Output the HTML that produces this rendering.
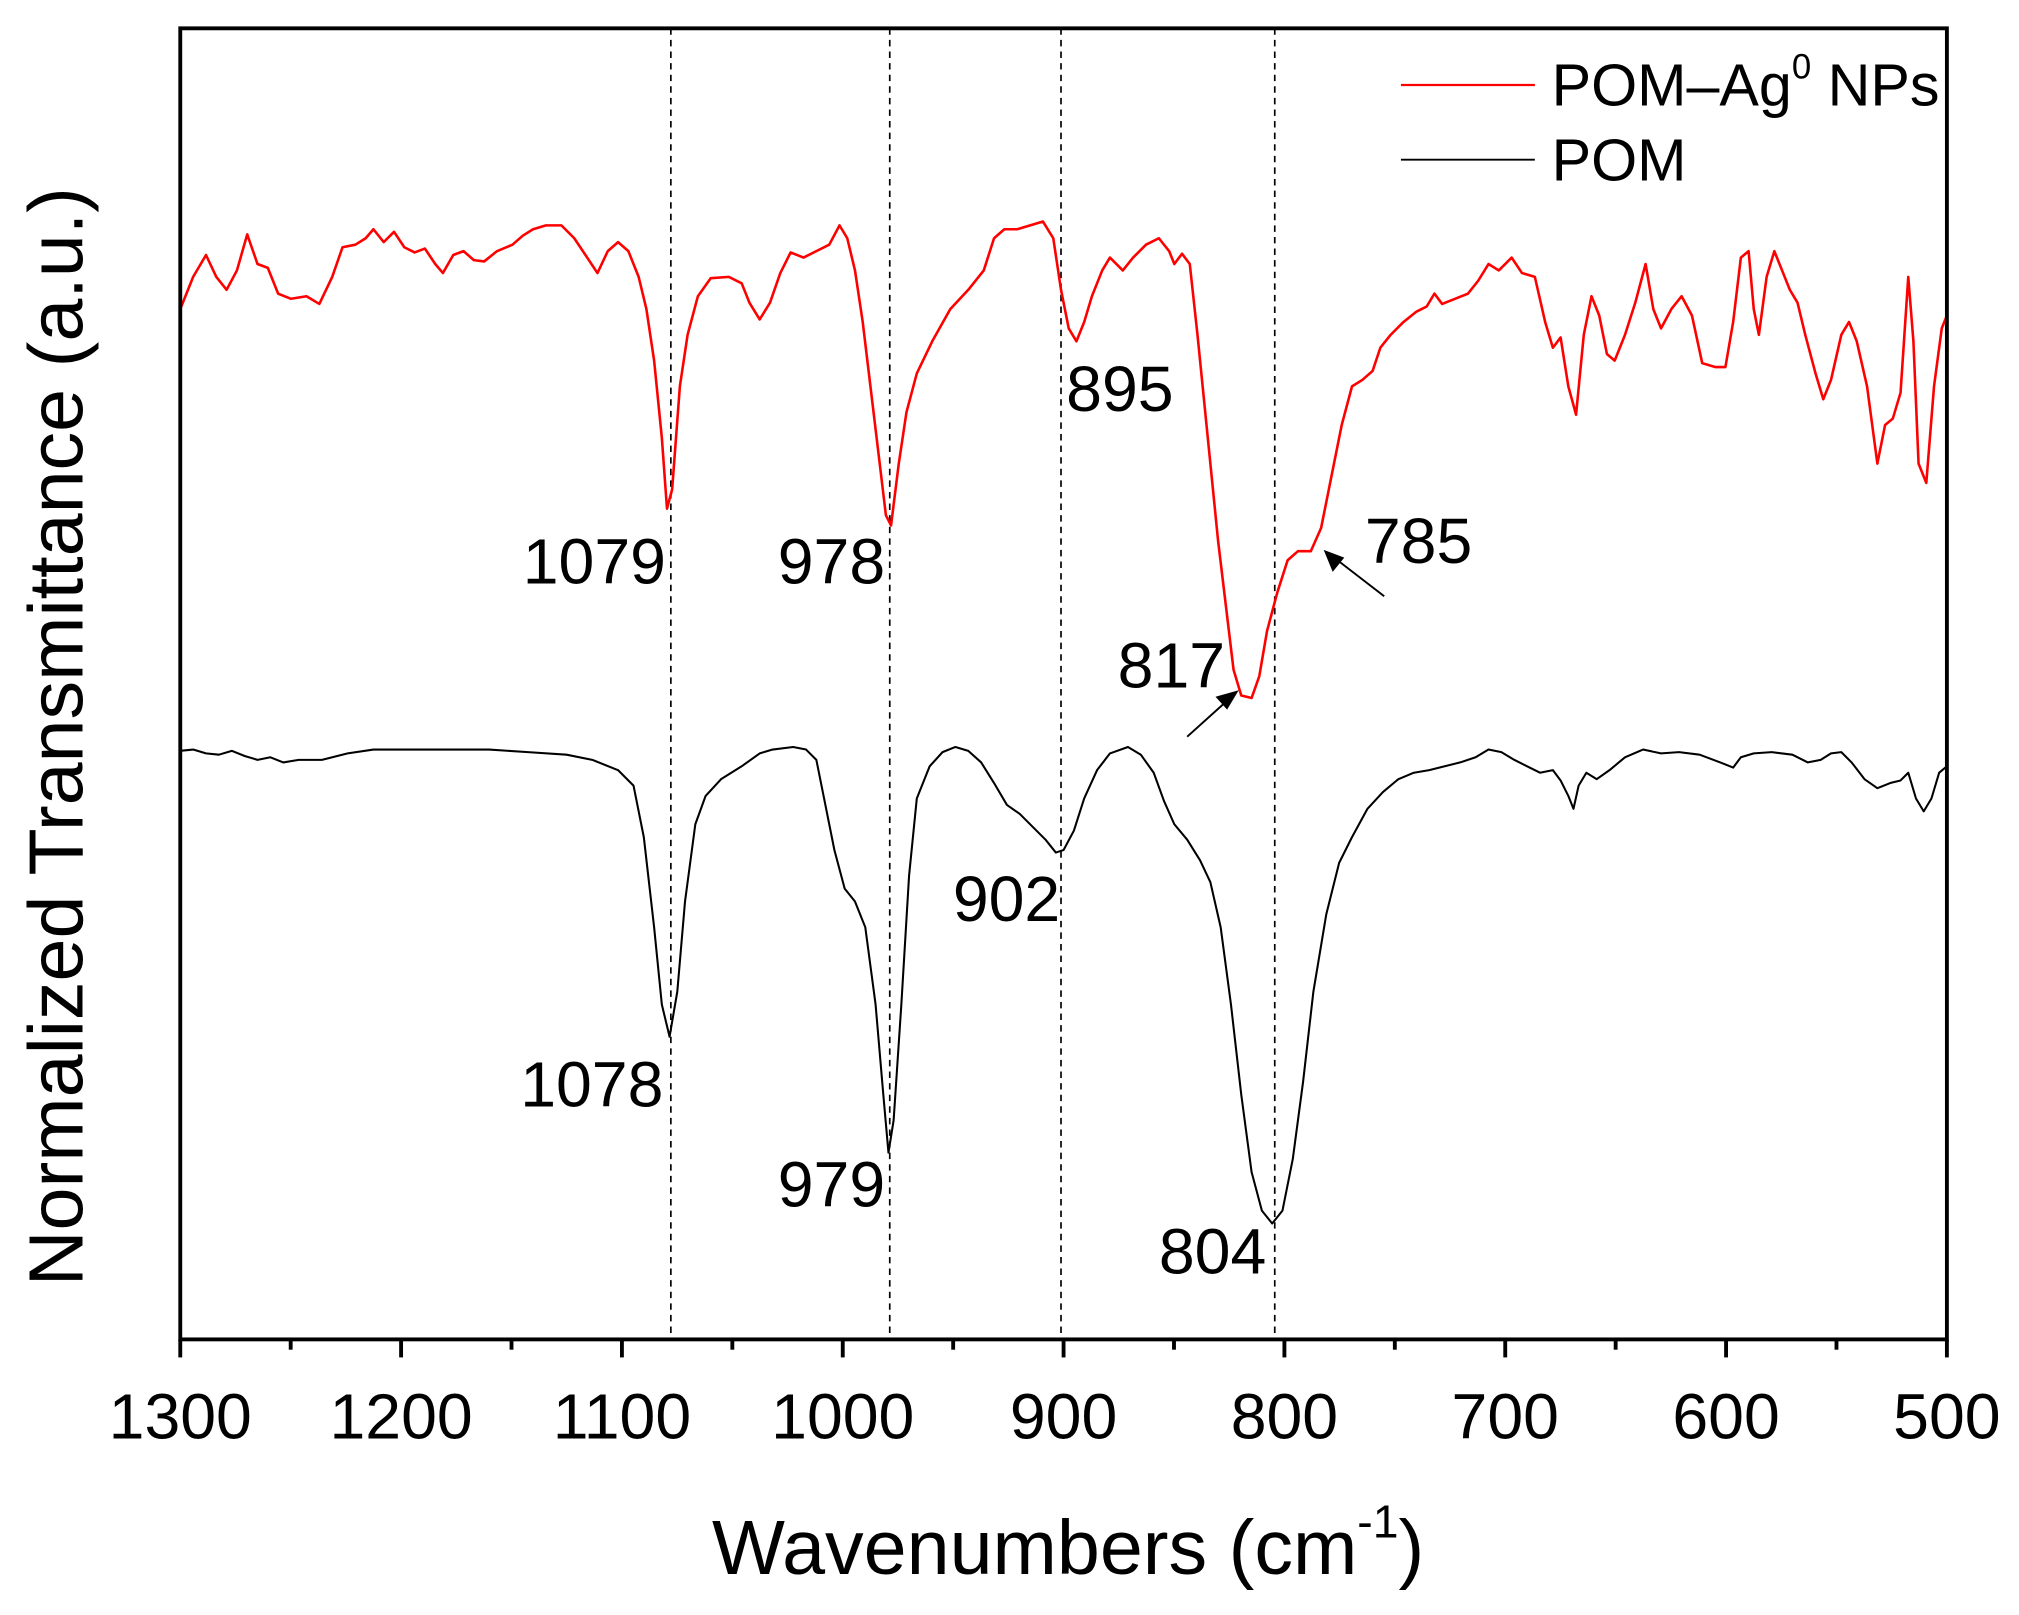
<!DOCTYPE html>
<html><head><meta charset="utf-8"><style>
html,body{margin:0;padding:0;background:#fff;}
svg{display:block;}
text{font-family:"Liberation Sans",Arial,sans-serif;fill:#000;}
</style></head><body>
<svg width="2019" height="1615" viewBox="0 0 1568 1254" preserveAspectRatio="none" xmlns="http://www.w3.org/2000/svg">
<rect x="0" y="0" width="1568" height="1254" fill="#fff"/>
<g stroke="#000" stroke-width="1.3" stroke-dasharray="5,4">
<line x1="521" y1="22" x2="521" y2="1040"/>
<line x1="691" y1="22" x2="691" y2="1040"/>
<line x1="824" y1="22" x2="824" y2="1040"/>
<line x1="990" y1="22" x2="990" y2="1040"/>
</g>
<polyline fill="none" stroke="#ff0000" stroke-width="2" stroke-linejoin="round" points="140,240 150,215 160,198 168,215 176,225 184,210 192,182 200,205 208,208 216,228 226,232 238,230 248,236 258,215 266,192 276,190 284,185 290,178 298,188 306,180 314,192 322,196 330,193 338,205 344,212 352,198 360,195 368,202 376,203 386,195 398,190 406,183 414,178 424,175 436,175 446,185 456,200 464,212 472,195 480,188 488,195 496,215 502,240 508,280 514,340 518,395 522,380 528,300 534,260 542,230 552,216 566,215 576,220 582,235 590,248 598,235 606,212 614,196 624,200 634,195 644,190 652,175 658,185 664,210 670,250 676,300 682,350 688,400 692,408 698,360 704,320 712,290 724,265 738,240 752,225 764,210 772,185 780,178 790,178 800,175 810,172 818,185 824,225 830,255 836,265 842,250 848,230 856,210 862,200 872,210 880,200 890,190 900,185 908,195 912,205 918,197 924,205 930,260 938,340 946,420 952,470 958,520 964,540 972,542 978,525 984,490 992,460 1000,435 1008,428 1018,428 1026,410 1034,370 1042,330 1050,300 1058,295 1066,288 1072,270 1080,260 1090,250 1100,242 1108,238 1114,228 1120,236 1130,232 1140,228 1148,218 1156,205 1164,210 1174,200 1182,212 1192,215 1200,250 1206,270 1212,262 1218,300 1224,322 1230,260 1236,230 1242,245 1248,275 1254,280 1262,260 1270,235 1278,205 1284,240 1290,255 1298,240 1306,230 1314,245 1322,282 1332,285 1340,285 1346,250 1352,200 1358,195 1362,240 1366,260 1372,215 1378,195 1384,210 1390,225 1396,235 1402,260 1410,290 1416,310 1422,295 1430,260 1436,250 1442,265 1450,300 1458,360 1464,330 1470,325 1476,305 1482,215 1486,265 1490,360 1496,375 1502,300 1508,255 1512,245"/>
<polyline fill="none" stroke="#000" stroke-width="1.6" stroke-linejoin="round" points="140,583 150,582 160,585 170,586 180,583 190,587 200,590 210,588 220,592 232,590 250,590 270,585 290,582 320,582 350,582 380,582 410,584 440,586 460,590 480,598 492,610 500,650 508,720 514,780 520,805 526,770 532,700 540,640 548,618 560,605 576,595 590,585 600,582 616,580 626,582 634,590 640,620 648,660 656,690 664,700 672,720 680,780 686,850 690,895 694,870 700,780 706,680 712,620 722,595 732,584 742,580 752,583 762,592 772,608 782,625 792,632 802,642 812,652 820,662 826,660 834,645 842,620 852,598 862,585 876,580 886,586 896,600 904,622 912,640 922,652 932,668 940,685 948,720 956,780 964,850 972,910 980,940 988,950 996,940 1004,900 1012,840 1020,770 1030,710 1040,670 1050,650 1062,628 1074,615 1086,605 1098,600 1110,598 1122,595 1134,592 1146,588 1156,582 1166,584 1176,590 1186,595 1196,600 1206,598 1212,606 1218,618 1222,628 1226,610 1232,600 1240,605 1250,598 1262,588 1276,582 1290,585 1304,584 1320,586 1336,592 1346,596 1352,588 1362,585 1376,584 1392,586 1404,592 1414,590 1422,585 1430,584 1438,592 1448,605 1458,612 1468,608 1476,606 1482,600 1488,620 1494,630 1500,620 1506,600 1512,595"/>
<rect x="140" y="22" width="1372" height="1018" fill="none" stroke="#000" stroke-width="3"/>
<g stroke="#000" stroke-width="3">
<line x1="140" y1="1040" x2="140" y2="1054"/><line x1="311.5" y1="1040" x2="311.5" y2="1054"/><line x1="483" y1="1040" x2="483" y2="1054"/><line x1="654.5" y1="1040" x2="654.5" y2="1054"/><line x1="826" y1="1040" x2="826" y2="1054"/><line x1="997.5" y1="1040" x2="997.5" y2="1054"/><line x1="1169" y1="1040" x2="1169" y2="1054"/><line x1="1340.5" y1="1040" x2="1340.5" y2="1054"/><line x1="1512" y1="1040" x2="1512" y2="1054"/>
<line x1="225.75" y1="1040" x2="225.75" y2="1048"/><line x1="397.25" y1="1040" x2="397.25" y2="1048"/><line x1="568.75" y1="1040" x2="568.75" y2="1048"/><line x1="740.25" y1="1040" x2="740.25" y2="1048"/><line x1="911.75" y1="1040" x2="911.75" y2="1048"/><line x1="1083.25" y1="1040" x2="1083.25" y2="1048"/><line x1="1254.75" y1="1040" x2="1254.75" y2="1048"/><line x1="1426.25" y1="1040" x2="1426.25" y2="1048"/>
</g>
<g font-size="50" text-anchor="middle">
<text x="140" y="1117">1300</text><text x="311.5" y="1117">1200</text><text x="483" y="1117">1100</text><text x="654.5" y="1117">1000</text><text x="826" y="1117">900</text><text x="997.5" y="1117">800</text><text x="1169" y="1117">700</text><text x="1340.5" y="1117">600</text><text x="1512" y="1117">500</text>
</g>
<text x="553" y="1222" font-size="60">Wavenumbers (cm<tspan font-size="36" dy="-28">-1</tspan><tspan dy="28">)</tspan></text>
<text transform="translate(64,572) rotate(-90)" font-size="60" text-anchor="middle">Normalized Transmittance (a.u.)</text>
<line x1="1088" y1="66" x2="1192" y2="66" stroke="#ff0000" stroke-width="1.8"/>
<line x1="1088" y1="124" x2="1192" y2="124" stroke="#000" stroke-width="1.4"/>
<text x="1205" y="82" font-size="46">POM–Ag<tspan font-size="27" dy="-21">0</tspan><tspan dy="21"> NPs</tspan></text>
<text x="1205" y="140" font-size="46">POM</text>
<g font-size="50">
<text x="406" y="453">1079</text><text x="604" y="453">978</text><text x="828" y="319">895</text><text x="1060" y="437">785</text><text x="868" y="534">817</text>
<text x="404" y="859">1078</text><text x="604" y="937">979</text><text x="740" y="715">902</text><text x="900" y="989">804</text>
</g>
<line x1="922" y1="572" x2="952" y2="545" stroke="#000" stroke-width="1.5"/>
<polygon points="962,536 944,541 953,551" fill="#000"/>
<line x1="1075" y1="463" x2="1040" y2="436" stroke="#000" stroke-width="1.5"/>
<polygon points="1028,427 1035,444 1044,433" fill="#000"/>
</svg>
</body></html>
